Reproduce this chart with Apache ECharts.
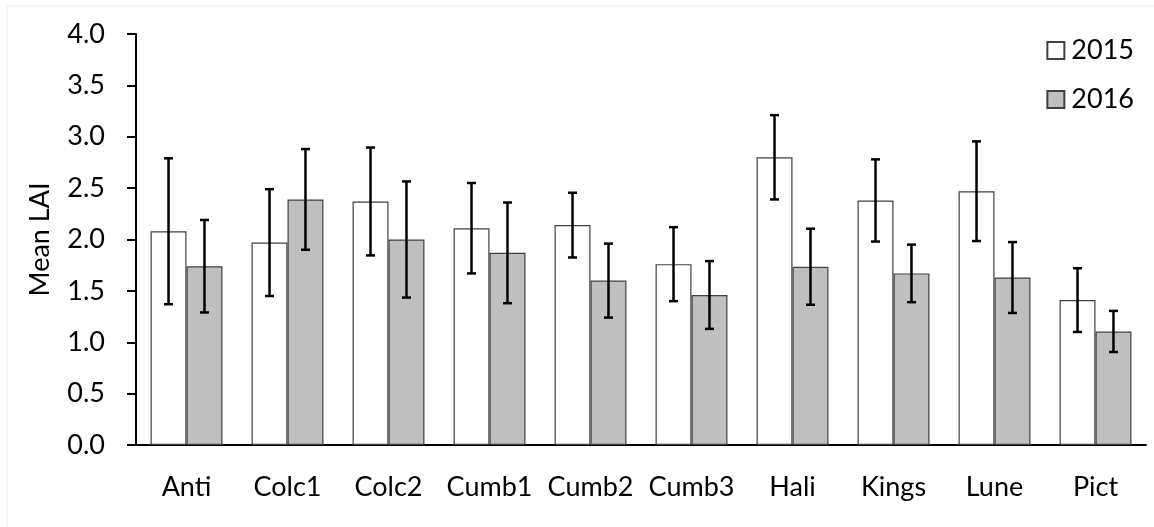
<!DOCTYPE html>
<html>
<head>
	<meta charset="utf-8">
	<script src="https://cdn.jsdelivr.net/npm/echarts@6/dist/echarts.min.js"></script>
	<style>
		html, body { margin: 0; padding: 0; background: #fff; }
		#chart { width: 1154px; height: 527px; }
	</style>
</head>
<body>
	<div id="chart"></div>
	<script>
		const categories = ['Anti', 'Colc1', 'Colc2', 'Cumb1', 'Cumb2', 'Cumb3', 'Hali', 'Kings', 'Lune', 'Pict']
		const mean2015 = [2.08, 1.97, 2.37, 2.11, 2.14, 1.76, 2.80, 2.38, 2.47, 1.41]
		const err2015 = [0.71, 0.52, 0.525, 0.44, 0.315, 0.36, 0.41, 0.40, 0.485, 0.31]
		const mean2016 = [1.74, 2.39, 2.00, 1.87, 1.60, 1.46, 1.735, 1.67, 1.63, 1.105]
		const err2016 = [0.45, 0.49, 0.565, 0.49, 0.36, 0.33, 0.37, 0.28, 0.345, 0.20]

		const font = 'Lato, "Open Sans", sans-serif'
		const fontSize = 27
		const barFrac = 0.356

		// error bar drawn around the bar centre, side = -1 (left bar) or 1 (right bar)
		function errorBar(side) {
			return function (params, api) {
				const idx = api.value(0)
				const mid = api.value(1)
				const err = api.value(2)
				const band = api.size([1, 0])[0]
				const dx = side * band * barFrac / 2
				const top = api.coord([idx, mid + err])
				const bot = api.coord([idx, mid - err])
				const x = top[0] + dx
				const cap = 4.5
				const style = { stroke: '#000', lineWidth: 2.5 }
				return {
					type: 'group',
					children: [
						{ type: 'line', shape: { x1: x, y1: top[1], x2: x, y2: bot[1] }, style: style },
						{ type: 'line', shape: { x1: x - cap, y1: top[1], x2: x + cap, y2: top[1] }, style: style },
						{ type: 'line', shape: { x1: x - cap, y1: bot[1], x2: x + cap, y2: bot[1] }, style: style }
					]
				}
			}
		}

		const chart = echarts.init(document.getElementById('chart'))
		chart.setOption({
			animation: false,
			textStyle: { fontFamily: font },
			graphic: [{
				type: 'rect',
				shape: { x: 7, y: 6, width: 1160, height: 530 },
				style: { fill: 'none', stroke: '#eeeeee', lineWidth: 1 },
				silent: true
			}],
			grid: {
				left: 136,
				right: 8,
				top: 34,
				bottom: 82
			},
			legend: {
				orient: 'vertical',
				right: 15,
				top: 32,
				itemWidth: 17,
				itemHeight: 17,
				itemGap: 22,
				icon: 'rect',
				textStyle: { fontSize: fontSize, color: '#000', fontFamily: font, padding: [0, 0, 0, 2] },
				data: ['2015', '2016']
			},
			xAxis: {
				type: 'category',
				data: categories,
				axisLine: { lineStyle: { color: '#000', width: 2 } },
				axisTick: { length: 10, interval: 0, lineStyle: { color: '#000', width: 2 } },
				axisLabel: { fontSize: fontSize, color: '#000', margin: 29, interval: 0, fontFamily: font }
			},
			yAxis: {
				type: 'value',
				min: 0,
				max: 4,
				interval: 0.5,
				name: 'Mean LAI',
				nameLocation: 'middle',
				nameGap: 82,
				nameTextStyle: { fontSize: fontSize, color: '#000', fontFamily: font },
				splitLine: { show: false },
				axisLine: { show: true, lineStyle: { color: '#000', width: 2 } },
				axisTick: { show: true, length: 9, lineStyle: { color: '#000', width: 2 } },
				axisLabel: {
					fontSize: fontSize,
					color: '#000',
					margin: 31,
					fontFamily: font,
					formatter: v => v.toFixed(1)
				}
			},
			series: [
				{
					name: '2015',
					type: 'bar',
					data: mean2015,
					barWidth: (barFrac * 100) + '%',
					barGap: '0%',
					itemStyle: { color: '#ffffff', borderColor: '#404040', borderWidth: 1.2 }
				},
				{
					name: '2016',
					type: 'bar',
					data: mean2016,
					barWidth: (barFrac * 100) + '%',
					barGap: '0%',
					itemStyle: { color: '#bfbfbf', borderColor: '#404040', borderWidth: 1.2 }
				},
				{
					type: 'custom',
					renderItem: errorBar(-1),
					encode: { x: 0, y: 1 },
					data: categories.map((c, i) => [i, mean2015[i], err2015[i]]),
					z: 10
				},
				{
					type: 'custom',
					renderItem: errorBar(1),
					encode: { x: 0, y: 1 },
					data: categories.map((c, i) => [i, mean2016[i], err2016[i]]),
					z: 10
				}
			]
		})
	</script>
</body>
</html>
